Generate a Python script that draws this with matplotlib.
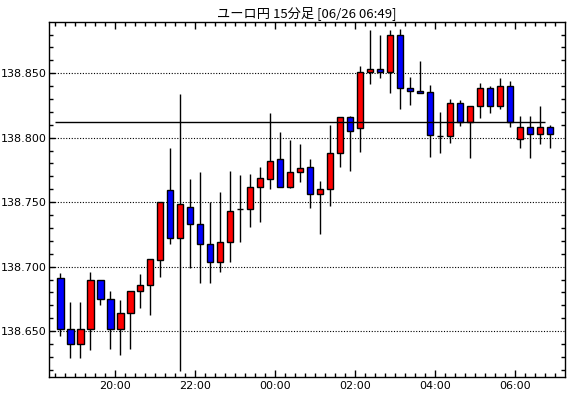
import matplotlib
matplotlib.use('Agg')
import matplotlib.pyplot as plt
import numpy as np
from matplotlib.ticker import MultipleLocator, FixedLocator

plt.rcParams['font.family'] = ['DejaVu Sans']

# 15-minute candles, 18:30 -> 06:45
opens = [138.6914, 138.6513, 138.6404, 138.6513, 138.6893, 138.6746, 138.6513, 138.6637, 138.6808, 138.6854,
         138.7050, 138.7592, 138.7219, 138.7460, 138.7333, 138.7178, 138.7038, 138.7193, 138.7447, 138.7447,
         138.7615, 138.7677, 138.7832, 138.7615, 138.7731, 138.7770, 138.7561, 138.7605, 138.7879, 138.8158,
         138.8078, 138.8508, 138.8531, 138.8508, 138.8795, 138.8383, 138.8365, 138.8352, 138.8011, 138.8011,
         138.8267, 138.8125, 138.8246, 138.8383, 138.8246, 138.8399, 138.7988, 138.8081, 138.8026, 138.8081]
closes = [138.6513, 138.6404, 138.6513, 138.6893, 138.6746, 138.6513, 138.6637, 138.6808, 138.6854, 138.7056,
          138.7504, 138.7219, 138.7488, 138.7333, 138.7178, 138.7038, 138.7193, 138.7434, 138.7447, 138.7615,
          138.7685, 138.7817, 138.7615, 138.7731, 138.7762, 138.7561, 138.7605, 138.7879, 138.8158, 138.8050,
          138.8508, 138.8531, 138.8508, 138.8795, 138.8383, 138.8365, 138.8350, 138.8019, 138.8011, 138.8267,
          138.8125, 138.8246, 138.8383, 138.8246, 138.8399, 138.8119, 138.8081, 138.8026, 138.8081, 138.8026]
highs = [138.6953, 138.6728, 138.6728, 138.6960, 138.6893, 138.6810, 138.6741, 138.6808, 138.6942, 138.7056,
         138.7504, 138.7918, 138.8337, 138.7680, 138.7731, 138.7499, 138.7576, 138.7742, 138.7711, 138.7716,
         138.7773, 138.8192, 138.8044, 138.7982, 138.7951, 138.7832, 138.7667, 138.8099, 138.8158, 138.8169,
         138.8557, 138.8836, 138.8797, 138.8836, 138.8844, 138.8471, 138.8596, 138.8409, 138.8197, 138.8298,
         138.8293, 138.8246, 138.8425, 138.8404, 138.8466, 138.8440, 138.8169, 138.8169, 138.8246, 138.8099]
lows = [138.6464, 138.6288, 138.6288, 138.6353, 138.6702, 138.6365, 138.6314, 138.6365, 138.6681, 138.6629,
        138.6922, 138.7178, 138.6190, 138.6986, 138.6875, 138.6875, 138.6960, 138.7038, 138.7193, 138.7305,
        138.7349, 138.7599, 138.7615, 138.7607, 138.7659, 138.7457, 138.7250, 138.7473, 138.7775, 138.7742,
        138.7887, 138.8420, 138.8461, 138.8350, 138.8223, 138.8254, 138.8350, 138.7853, 138.7879, 138.7957,
        138.8094, 138.7845, 138.8156, 138.8194, 138.8226, 138.8086, 138.7920, 138.7845, 138.7949, 138.7923]

x_labels = ['20:00', '22:00', '00:00', '02:00', '04:00', '06:00']
x_label_pos = [5.5, 13.5, 21.5, 29.5, 37.5, 45.5]
y_labels = ['138.650', '138.700', '138.750', '138.800', '138.850']
y_label_vals = [138.65, 138.70, 138.75, 138.80, 138.85]
current_price = 138.8119
title = 'ユーロ円 15分足 [06/26 06:49]'

fig = plt.figure(figsize=(5.7, 3.98), dpi=100)
ax = fig.add_axes([0.0865, 0.0533, 0.9047, 0.891])

o = np.array(opens)
c = np.array(closes)
x = np.arange(len(o))
colors = np.where(c >= o, '#ff0000', '#0000ff')

for yv in y_label_vals:
    ax.axhline(yv, color='black', lw=0.8, ls=(0, (1, 1.5)), zorder=1)

ax.vlines(x, lows, highs, color='black', lw=1.0, zorder=2)
ax.bar(x, np.abs(c - o), bottom=np.minimum(o, c), width=0.65, color=colors,
       edgecolor='black', linewidth=1.0, zorder=3)

ax.hlines(current_price, -0.5, 48.5, color='black', lw=1.0, zorder=4)

ax.set_xlim(-1.1, 50.5)
ax.set_ylim(138.6146, 138.8896)

ax.xaxis.set_major_locator(FixedLocator(x_label_pos))
ax.set_xticklabels(x_labels)
ax.xaxis.set_minor_locator(FixedLocator(np.arange(-0.5, 50.5, 1.0)))
ax.yaxis.set_major_locator(FixedLocator(y_label_vals))
ax.set_yticklabels(y_labels)
ax.yaxis.set_minor_locator(MultipleLocator(0.01))

ax.tick_params(axis='both', which='major', direction='in', length=5, width=1,
               labelsize=8, top=True, right=False, pad=3)
ax.tick_params(axis='both', which='minor', direction='in', length=3, width=1,
               top=True, right=True)
ax.tick_params(axis='y', which='major', length=4, pad=2)
for sp in ax.spines.values():
    sp.set_linewidth(1.0)

ax.set_title(title, fontsize=9.5, pad=4,
             family=['Noto Sans CJK JP', 'DejaVu Sans'])

fig.savefig('out.png', dpi=100)
